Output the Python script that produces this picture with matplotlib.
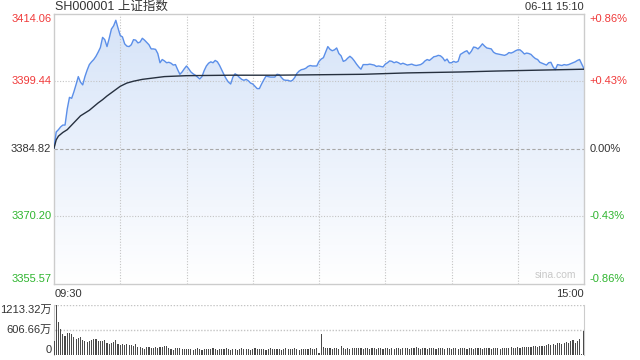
import numpy as np
import matplotlib
matplotlib.use('Agg')
import matplotlib.pyplot as plt
from matplotlib.colors import LinearSegmentedColormap

plt.rcParams['font.family'] = ['Liberation Sans', 'Noto Sans CJK SC', 'DejaVu Sans']

# 分時データ (09:30 - 15:00, 1分ごと)
price = [
    3385.0, 3388.5, 3389.0, 3389.6, 3390.0, 3390.0, 3393.5, 3396.0, 3395.8, 3397.2,
    3398.8, 3400.5, 3399.3, 3398.7, 3400.5, 3401.9, 3403.1, 3403.7, 3404.2, 3404.9,
    3405.8, 3406.8, 3409.0, 3408.5, 3407.0, 3408.8, 3410.8, 3411.5, 3412.7, 3411.0,
    3409.4, 3409.1, 3407.6, 3407.1, 3407.0, 3407.4, 3408.5, 3408.4, 3407.8, 3408.0,
    3408.8, 3408.4, 3407.9, 3407.4, 3406.5, 3406.5, 3406.4, 3405.5, 3403.5, 3404.2,
    3403.9, 3403.5, 3403.6, 3403.4, 3403.0, 3403.1, 3402.0, 3401.0, 3401.5, 3402.2,
    3402.8, 3402.2, 3401.5, 3401.1, 3400.8, 3400.4, 3400.0, 3400.5, 3401.8, 3402.8,
    3403.4, 3403.7, 3403.5, 3404.0, 3403.7, 3402.9, 3401.9, 3400.9, 3400.0, 3399.3,
    3398.9, 3400.4, 3401.1, 3400.8, 3400.3, 3399.9, 3399.7, 3399.9, 3399.6, 3399.1,
    3398.9, 3398.4, 3397.9, 3397.9, 3398.9, 3399.8, 3400.6, 3400.5, 3400.4, 3400.4,
    3400.4, 3401.0, 3400.9, 3400.3, 3399.8, 3399.7, 3399.7, 3399.5, 3399.7, 3400.3,
    3401.2, 3401.7, 3402.0, 3402.1, 3402.3, 3402.7, 3402.9, 3402.8, 3402.8, 3402.8,
    3403.8, 3404.3, 3404.6, 3405.8, 3407.0, 3406.4, 3406.1, 3406.3, 3406.7, 3405.5,
    3405.0, 3403.8, 3404.0, 3404.5, 3404.9, 3404.5, 3403.9, 3403.2, 3402.6, 3402.1,
    3403.1, 3403.1, 3403.1, 3403.2, 3403.1, 3403.0, 3402.7, 3402.8, 3402.7, 3402.6,
    3403.2, 3403.5, 3403.9, 3403.8, 3403.5, 3403.7, 3403.5, 3403.2, 3403.4, 3403.2,
    3403.0, 3403.1, 3403.2, 3403.0, 3402.9, 3403.0, 3403.1, 3403.4, 3403.9, 3404.2,
    3404.0, 3404.4, 3404.8, 3404.9, 3405.1, 3405.0, 3404.6, 3403.9, 3404.3, 3403.5,
    3403.5, 3403.8, 3403.6, 3403.8, 3405.3, 3405.6, 3405.9, 3406.1, 3405.4, 3406.0,
    3406.9, 3406.8, 3406.5, 3407.0, 3407.6, 3407.1, 3406.7, 3406.6, 3406.5, 3405.8,
    3405.5, 3405.4, 3405.3, 3405.2, 3405.1, 3405.3, 3405.7, 3405.6, 3405.8, 3406.1,
    3406.3, 3406.3, 3405.9, 3405.4, 3405.6, 3405.5, 3405.3, 3404.8, 3404.4, 3404.2,
    3403.6, 3403.4, 3403.2, 3403.0, 3403.5, 3403.6, 3402.6, 3402.0, 3403.1, 3403.0,
    3402.9, 3403.1, 3403.0, 3403.1, 3403.3, 3403.5, 3403.7, 3404.0, 3404.2, 3403.2,
    3402.2,
]

# 均価線 (読み取り点)
avg_minutes = [0, 1, 2, 4, 6, 8, 10, 12, 14, 16, 18, 20, 22, 24, 26, 28, 30, 33, 36,
               40, 45, 50, 60, 80, 100, 120, 140, 160, 184, 200, 220, 240]
avg_values = [3385.0, 3386.8, 3387.6, 3388.4, 3389.0, 3390.0, 3391.0, 3392.0, 3392.6,
              3393.2, 3394.0, 3394.8, 3395.5, 3396.3, 3397.0, 3397.7, 3398.4, 3399.1,
              3399.5, 3399.9, 3400.2, 3400.5, 3400.7, 3400.8, 3400.8, 3400.9, 3401.0,
              3401.3, 3401.5, 3401.7, 3401.9, 3402.1]

# 出来高 (万)
volume = [
    330, 1213.32, 810, 640, 520, 465, 545, 545, 505, 425,
    385, 410, 425, 360, 345, 305, 345, 360, 385, 400,
    330, 330, 345, 360, 280, 265, 290, 305, 370, 265,
    250, 265, 250, 265, 250, 240, 225, 265, 200, 185,
    170, 145, 185, 185, 160, 160, 185, 170, 185, 200,
    210, 225, 170, 145, 130, 170, 160, 160, 145, 150,
    145, 140, 150, 130, 145, 160, 150, 125, 140, 150,
    135, 155, 170, 140, 130, 150, 145, 135, 160, 145,
    130, 150, 140, 130, 145, 160, 135, 150, 145, 130,
    150, 175, 145, 135, 150, 140, 130, 155, 165, 150,
    135, 140, 150, 130, 145, 170, 140, 135, 150, 160,
    145, 130, 140, 150, 135, 145, 160, 150, 140, 170,
    40, 520, 190, 160, 175, 165, 150, 175, 160, 150,
    210, 165, 145, 160, 150, 165, 170, 160, 175, 165,
    155, 160, 165, 150, 170, 160, 155, 175, 160, 150,
    165, 170, 150, 160, 155, 175, 165, 150, 160, 170,
    160, 150, 165, 160, 200, 170, 155, 165, 160, 150,
    165, 175, 160, 150, 170, 165, 160, 155, 165, 175,
    150, 160, 165, 155, 175, 160, 165, 150, 160, 170,
    155, 165, 175, 160, 150, 165, 170, 160, 155, 165,
    175, 160, 150, 165, 170, 180, 165, 185, 175, 180,
    190, 175, 185, 200, 190, 185, 195, 210, 220, 200,
    215, 230, 220, 240, 260, 250, 270, 240, 285, 300,
    270, 300, 320, 290, 340, 360, 300, 330, 380, 30,
    575,
]

price_ticks = [3414.06, 3399.44, 3384.82, 3370.20, 3355.57]
pct_labels = ['+0.86%', '+0.43%', '0.00%', '-0.43%', '-0.86%']
vol_ticks = [1213.32, 606.66, 0]
vol_labels = ['1213.32万', '606.66万', '0']
title = 'SH000001 上证指数'
stamp = '06-11 15:10'

RED = '#f03a3a'
GREEN = '#2fb52f'
DARK = '#333333'
GRID = '#c4c4c4'
tick_colors = [RED, RED, DARK, GREEN, GREEN]

W, H = 640, 360
fig = plt.figure(figsize=(W / 100, H / 100), dpi=100)


def ax_rect(x0, y0, x1, y1):
    return [x0 / W, 1 - y1 / H, (x1 - x0) / W, (y1 - y0) / H]


ax = fig.add_axes(ax_rect(54, 14, 584, 284))
axv = fig.add_axes(ax_rect(54, 305, 584, 355))

minutes = np.arange(len(price))
ymin, ymax = price_ticks[-1], price_ticks[0]

# グラデーション塗り
cmap = LinearSegmentedColormap.from_list('fillgrad', ['#ffffff', '#d5e3f8'])
grad = np.linspace(0, 1, 256).reshape(-1, 1)
im = ax.imshow(grad, extent=[0, 240, ymin, ymax], origin='lower', aspect='auto',
               cmap=cmap, zorder=1)
poly = ax.fill_between(minutes, price, ymin, color='none', zorder=1)
im.set_clip_path(poly.get_paths()[0], transform=ax.transData)

# グリッド
for t in [30, 60, 90, 120, 150, 180, 210]:
    ax.axvline(t, color=GRID, lw=0.8, ls=(0, (1, 1.5)), zorder=2)
ax.axhline(price_ticks[1], color=GRID, lw=0.8, ls=(0, (1, 1.5)), zorder=2)
ax.axhline(price_ticks[3], color=GRID, lw=0.8, ls=(0, (1, 1.5)), zorder=2)
ax.axhline(price_ticks[2], color='#a8a8a8', lw=0.8, ls=(0, (3, 2)), zorder=2)

ax.plot(minutes, price, color='#5b8fe9', lw=1.0, zorder=3)
ax.plot(avg_minutes, avg_values, color='#26303f', lw=1.0, zorder=3)

ax.set_xlim(0, 240)
ax.set_ylim(ymin, ymax)
ax.set_xticks([])
ax.set_yticks([])
for s in ax.spines.values():
    s.set_color('#cccccc')
    s.set_linewidth(1)

# 価格・騰落率ラベル
tr = ax.get_yaxis_transform()
vas = ['top', 'center', 'center', 'center', 'bottom']
for v, p, c, va in zip(price_ticks, pct_labels, tick_colors, vas):
    ax.text(-0.005, v, f'{v:.2f}', transform=tr, ha='right', va=va, color=c, fontsize=8)
    ax.text(1.010, v, p, transform=tr, ha='left', va=va, color=c, fontsize=8)

ax.text(0.985, 0.015, 'sina.com', transform=ax.transAxes, ha='right', va='bottom',
        color='#c8c8c8', fontsize=7.5)

# 出来高
axv.bar(minutes, volume, width=0.5, color='#4a4a4a', linewidth=0,
        antialiased=False, zorder=3)
axv.set_xlim(0, 240)
axv.set_ylim(0, vol_ticks[0])
axv.set_xticks([])
axv.set_yticks([])
for side in ['top', 'bottom']:
    axv.spines[side].set_visible(False)
for side in ['left', 'right']:
    axv.spines[side].set_color('#cccccc')
axv.axhline(vol_ticks[0], color=GRID, lw=1, ls=(0, (1, 1.2)), zorder=1)
axv.axhline(vol_ticks[1], color=GRID, lw=1, ls=(0, (1, 1.2)), zorder=1)
trv = axv.get_yaxis_transform()
for v, lab, va in zip(vol_ticks, vol_labels, ['top', 'center', 'bottom']):
    axv.text(-0.005, v, lab, transform=trv, ha='right', va=va, color=DARK, fontsize=8)

# タイトル等
fig.text(55 / W, 1 - 7 / H, title, ha='left', va='center', color=DARK, fontsize=9)
fig.text(584 / W, 1 - 7 / H, stamp, ha='right', va='center', color=DARK, fontsize=8)
fig.text(55 / W, 1 - 294 / H, '09:30', ha='left', va='center', color=DARK, fontsize=8)
fig.text(584 / W, 1 - 294 / H, '15:00', ha='right', va='center', color=DARK, fontsize=8)

fig.savefig('out.png', dpi=100, facecolor='white')
